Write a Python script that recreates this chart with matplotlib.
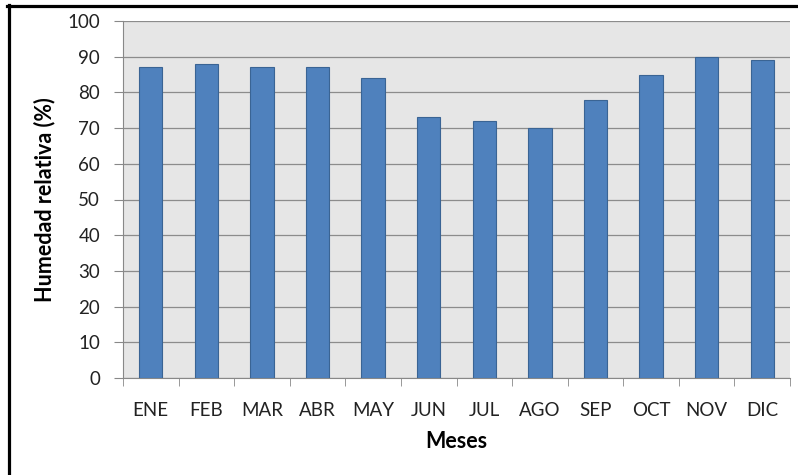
import matplotlib
matplotlib.use("Agg")
import matplotlib.pyplot as plt
from matplotlib.lines import Line2D

meses = ["ENE", "FEB", "MAR", "ABR", "MAY", "JUN", "JUL", "AGO", "SEP", "OCT", "NOV", "DIC"]
humedad = [87, 88, 87, 87, 84, 73, 72, 70, 78, 85, 90, 89]

plt.rcParams['font.family'] = ['Lato', 'DejaVu Sans']

W, H = 798, 475
fig = plt.figure(figsize=(W / 100, H / 100), dpi=100)
ax = fig.add_axes([123 / W, 1 - 378 / H, (790 - 123) / W, (378 - 21) / H])

# borde exterior negro (solo arriba e izquierda visibles)
fig.lines.append(Line2D([7 / W, 1.01], [1 - 6 / H, 1 - 6 / H], transform=fig.transFigure,
                        color="black", linewidth=2.3))
fig.lines.append(Line2D([8.5 / W, 8.5 / W], [1 - 4.5 / H, -0.01], transform=fig.transFigure,
                        color="black", linewidth=2.3))

ax.set_facecolor("#e6e6e6")
x = list(range(len(meses)))
ax.bar(x, humedad, width=0.42, color="#4f81bd", edgecolor="#3a6494", linewidth=0.8, zorder=3)

ax.set_xlim(-0.5, len(meses) - 0.5)
ax.set_ylim(0, 100)
ax.set_yticks(range(0, 101, 10))
ax.set_xticks(x)
ax.set_xticklabels(meses)
ax.set_xticks([i - 0.5 for i in range(len(meses) + 1)], minor=True)
ax.tick_params(axis="x", which="major", length=0, pad=17, labelsize=13.5, colors="#222222")
ax.tick_params(axis="x", which="minor", length=6, color="#888888")
ax.tick_params(axis="y", length=6.5, color="#888888", labelsize=13.5, labelcolor="#222222", pad=10)

ax.grid(axis="y", color="#8c8c8c", linewidth=0.9, zorder=0)
for s in ["top", "right"]:
    ax.spines[s].set_visible(False)
ax.spines["left"].set_color("#888888")
ax.spines["bottom"].set_color("#888888")

ax.set_ylabel("Humedad relativa (%)", fontsize=15.5, fontweight="bold")
ax.yaxis.set_label_coords((45 - 123) / (790 - 123), 0.5)
ax.set_xlabel("Meses", fontsize=15.5, fontweight="bold")
ax.xaxis.set_label_coords(0.5, -(441 - 378) / (378 - 21))
ax.xaxis.label.set_va("center")
ax.yaxis.label.set_va("center")

fig.savefig("out.png", dpi=100)
